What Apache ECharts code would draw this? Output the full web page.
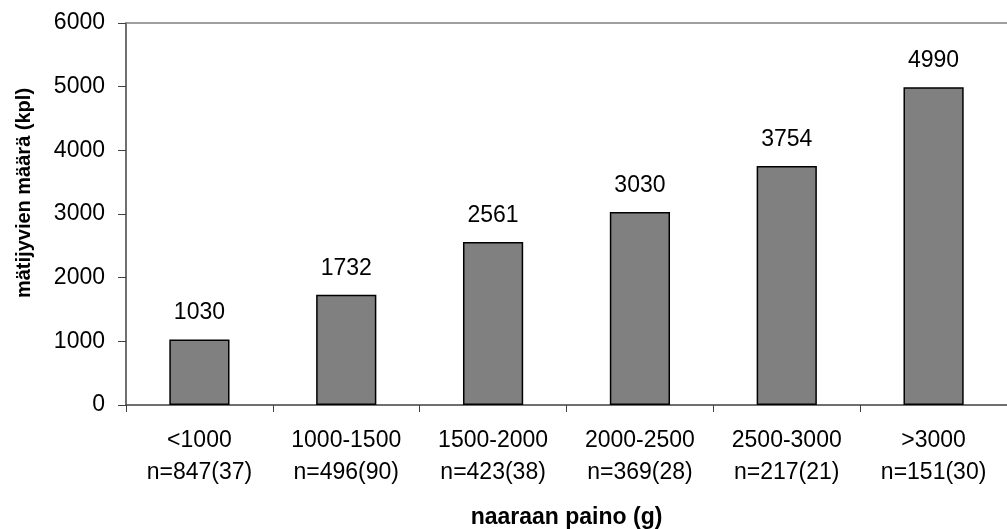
<!DOCTYPE html>
<html>
<head>
<meta charset="utf-8">
<script src="https://cdn.jsdelivr.net/npm/echarts@6/dist/echarts.min.js"></script>
<style>
  html, body { margin: 0; padding: 0; background: #fff; }
  #chart { width: 1007px; height: 529px; }
</style>
</head>
<body>
<div id="chart"></div>
<script>
// Weight classes of the females and sample sizes shown under each class
const weightClasses = ['<1000', '1000-1500', '1500-2000', '2000-2500', '2500-3000', '>3000'];
const sampleSizes = ['n=847(37)', 'n=496(90)', 'n=423(38)', 'n=369(28)', 'n=217(21)', 'n=151(30)'];
// Mean egg count per class
const eggCounts = [1030, 1732, 2561, 3030, 3754, 4990];
// Value axis ticks
const yTicks = [0, 1000, 2000, 3000, 4000, 5000, 6000];

const xTitle = 'naaraan paino (g)';
const yTitle = 'mätijyvien määrä (kpl)';

const categories = weightClasses.map((w, i) => w + '\n' + sampleSizes[i]);
const font = 'Liberation Sans, Arial, Helvetica, sans-serif';

const chart = echarts.init(document.getElementById('chart'), null, { renderer: 'canvas' });
chart.setOption({
  animation: false,
  backgroundColor: '#ffffff',
  textStyle: { fontFamily: font, color: '#000' },
  grid: { left: 126, right: 0, top: 23, bottom: 124, containLabel: false, outerBoundsMode: 'none' },
  graphic: [{
    // value axis title, placed slightly above the axis centre
    type: 'text',
    x: 24,
    y: 193,
    rotation: Math.PI / 2,
    style: {
      text: yTitle,
      fontFamily: font,
      fontSize: 20,
      fontWeight: 'bold',
      fill: '#000',
      align: 'center',
      verticalAlign: 'middle'
    }
  }],
  xAxis: [
    {
      type: 'category',
      data: categories,
      position: 'bottom',
      name: xTitle,
      nameLocation: 'middle',
      nameGap: 101,
      nameTextStyle: { fontFamily: font, fontSize: 23, fontWeight: 'bold', color: '#000' },
      axisLine: { lineStyle: { color: '#404040', width: 1.5 } },
      axisTick: { show: true, alignWithLabel: false, length: 7, lineStyle: { color: '#404040', width: 1 } },
      axisLabel: { fontFamily: font, fontSize: 23, color: '#000', margin: 20, lineHeight: 32, interval: 0 },
      splitLine: { show: false }
    },
    {
      // upper frame line of the plot area
      type: 'category',
      data: categories,
      position: 'top',
      axisLine: { lineStyle: { color: '#808080', width: 1.5 } },
      axisTick: { show: false },
      axisLabel: { show: false }
    }
  ],
  yAxis: {
    type: 'value',
    min: yTicks[0],
    max: yTicks[yTicks.length - 1],
    interval: yTicks[1] - yTicks[0],
    axisLine: { show: true, lineStyle: { color: '#404040', width: 1.5 } },
    axisTick: { show: true, length: 8, lineStyle: { color: '#404040', width: 1 } },
    axisLabel: { fontFamily: font, fontSize: 23, color: '#000', margin: 21, formatter: v => String(v) },
    splitLine: { show: false }
  },
  series: [{
    type: 'bar',
    xAxisIndex: 0,
    data: eggCounts,
    barWidth: '41%',
    itemStyle: { color: '#808080', borderColor: '#000', borderWidth: 1.5 },
    label: {
      show: true,
      position: 'top',
      distance: 15,
      fontFamily: font,
      fontSize: 23,
      color: '#000'
    }
  }]
});
</script>
</body>
</html>
